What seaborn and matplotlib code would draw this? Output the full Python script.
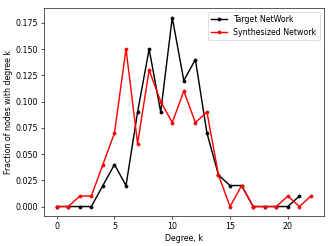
import matplotlib
matplotlib.use("Agg")
import matplotlib.pyplot as plt
import seaborn as sns
import pandas as pd

target_k = list(range(0, 22))
target_frac = [0, 0, 0, 0, 0.02, 0.04, 0.02, 0.09, 0.15, 0.09, 0.18, 0.12,
               0.14, 0.07, 0.03, 0.02, 0.02, 0, 0, 0, 0, 0.01]
synth_k = list(range(0, 23))
synth_frac = [0, 0, 0.01, 0.01, 0.04, 0.07, 0.15, 0.06, 0.13, 0.10, 0.08, 0.11,
              0.08, 0.09, 0.03, 0, 0.02, 0, 0, 0, 0.01, 0, 0.01]

dpi = 57
fig = plt.figure(figsize=(333 / dpi, 246 / dpi), dpi=dpi)
ax = fig.add_axes([0.132, 0.122, 0.840, 0.845])

df_t = pd.DataFrame({"k": target_k, "f": target_frac})
df_s = pd.DataFrame({"k": synth_k, "f": synth_frac})
sns.lineplot(data=df_t, x="k", y="f", ax=ax, color="black", marker=".",
             markersize=8, linewidth=1.8,
             markeredgecolor="black", label="Target NetWork")
sns.lineplot(data=df_s, x="k", y="f", ax=ax, color="red", marker=".",
             markersize=8, linewidth=1.8,
             markeredgecolor="red", label="Synthesized Network")

ax.set_xlabel("Degree, k")
ax.set_ylabel("Fraction of nodes with degree k")
ax.set_xticks([0, 5, 10, 15, 20])
ax.set_yticks([0, 0.025, 0.05, 0.075, 0.1, 0.125, 0.15, 0.175])
ax.legend(loc="upper right")

fig.savefig("out.png", dpi=dpi)
